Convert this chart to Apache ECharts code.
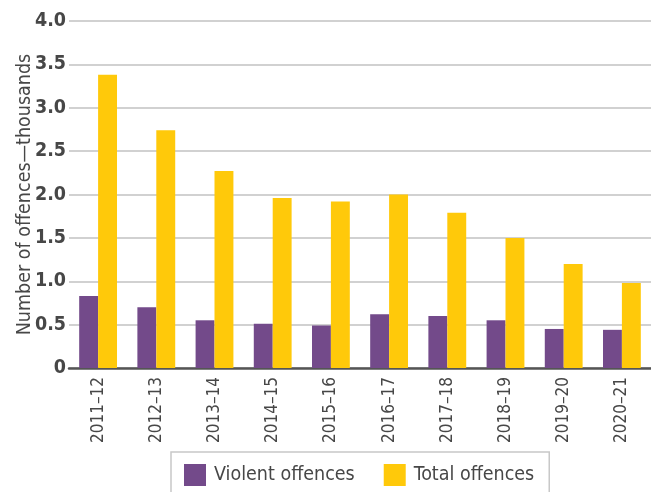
<!DOCTYPE html>
<html>
<head>
<meta charset="utf-8">
<script src="https://cdn.jsdelivr.net/npm/echarts@6/dist/echarts.min.js"></script>
<style>
  html, body { margin: 0; padding: 0; background: #fff; }
  #chart { width: 651px; height: 492px; }
</style>
</head>
<body>
<div id="chart"></div>
<script>
// Financial years shown on the category axis
const years = ['2011–12', '2012–13', '2013–14', '2014–15', '2015–16',
               '2016–17', '2017–18', '2018–19', '2019–20', '2020–21'];
// Offences, in thousands
const violentOffences = [0.83, 0.70, 0.55, 0.51, 0.49, 0.62, 0.60, 0.55, 0.45, 0.44];
const totalOffences   = [3.38, 2.74, 2.27, 1.96, 1.92, 2.00, 1.79, 1.50, 1.20, 0.98];
// Value axis ticks
const yTicks = [0, 0.5, 1.0, 1.5, 2.0, 2.5, 3.0, 3.5, 4.0];

const FONT = '"DejaVu Sans Condensed", Roboto, sans-serif';
const TEXT = '#474747';

const chart = echarts.init(document.getElementById('chart'), null, { renderer: 'canvas' });

chart.setOption({
  animation: false,
  backgroundColor: '#ffffff',
  textStyle: { fontFamily: FONT },
  grid: { left: 69, top: 21, width: 584, height: 347, containLabel: false },
  legend: {
    left: 171,
    top: 452,
    padding: [12, 15, 14, 13],
    borderColor: '#c8c8c8',
    borderWidth: 1.5,
    itemWidth: 22,
    itemHeight: 22,
    itemGap: 29,
    icon: 'rect',
    textStyle: { fontFamily: FONT, fontSize: 19.5, color: TEXT, padding: [0, 0, 0, 3] },
    data: ['Violent offences', 'Total offences']
  },
  xAxis: {
    type: 'category',
    data: years,
    axisLine: { show: true, lineStyle: { color: '#555555', width: 2.5 } },
    axisTick: { show: false },
    axisLabel: {
      rotate: 90,
      interval: 0,
      margin: 9,
      fontFamily: FONT,
      fontSize: 17,
      color: TEXT
    }
  },
  yAxis: {
    type: 'value',
    min: yTicks[0],
    max: yTicks[yTicks.length - 1],
    interval: 0.5,
    name: 'Number of offences—thousands',
    nameLocation: 'middle',
    nameGap: 34,
    nameMoveOverlap: false,
    nameTextStyle: { fontFamily: FONT, fontSize: 19.5, color: TEXT },
    axisLine: { show: false },
    axisTick: { show: false },
    splitLine: { lineStyle: { color: '#c2c2c2', width: 1.5 } },
    axisLabel: {
      margin: 3,
      fontFamily: FONT,
      fontSize: 19.5,
      fontWeight: 'bold',
      color: TEXT,
      formatter: v => (v === 0 ? '0' : v.toFixed(1))
    }
  },
  series: [
    {
      name: 'Violent offences',
      type: 'bar',
      data: violentOffences,
      itemStyle: { color: '#734a8a' },
      barGap: '0%',
      barCategoryGap: '35%'
    },
    {
      name: 'Total offences',
      type: 'bar',
      data: totalOffences,
      itemStyle: { color: '#ffc90a' },
      barGap: '0%',
      barCategoryGap: '35%'
    }
  ]
});
</script>
</body>
</html>
